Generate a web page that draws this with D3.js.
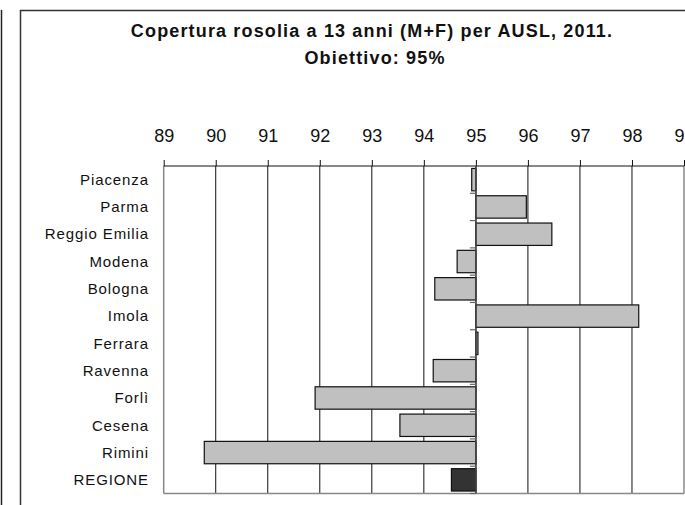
<!doctype html>
<html lang="it">
<head>
    <meta charset="UTF-8">
    <title>rosolia</title>
    <script src="https://cdn.jsdelivr.net/npm/d3@7"></script>
    <style>
        body { margin: 0; background: #fff; }
        svg { display: block; font-family: "Liberation Sans", Arial, sans-serif; }
    </style>
</head>
<body>
<svg width="685" height="505"></svg>
<script>
    // dati
    let ausl = ["Piacenza", "Parma", "Reggio Emilia", "Modena", "Bologna", "Imola",
        "Ferrara", "Ravenna", "Forlì", "Cesena", "Rimini", "REGIONE"];
    let copertura = [94.92, 95.97, 96.46, 94.64, 94.21, 98.13, 95.04, 94.18, 91.91, 93.54, 89.78, 94.53];
    let xTicks = [89, 90, 91, 92, 93, 94, 95, 96, 97, 98, 99];
    let obiettivo = 95;
    let titolo = ["Copertura rosolia a 13 anni (M+F) per AUSL, 2011.", "Obiettivo: 95%"];

    let svg = d3.select("svg");
    let grid = {left: 163.7, right: 684, top: 166, bottom: 493.5};

    // cornice esterna
    svg.append("line").attr("x1", 1.5).attr("x2", 1.5).attr("y1", 10).attr("y2", 505)
        .attr("stroke", "#222").attr("stroke-width", 1.5);
    svg.append("rect").attr("x", 20.5).attr("y", 10.5).attr("width", 700).attr("height", 520)
        .attr("fill", "none").attr("stroke", "#333").attr("stroke-width", 1.5);

    // titolo
    svg.selectAll(".titolo").data(titolo).enter().append("text")
        .attr("x", (d, i) => i === 0 ? 372 : 375).attr("y", (d, i) => 36.5 + i * 27.5)
        .attr("text-anchor", "middle")
        .attr("font-size", 18).attr("font-weight", "bold")
        .attr("letter-spacing", 1.15)
        .attr("fill", "#111")
        .text(d => d);

    let x = d3.scaleLinear().domain([89, 99]).range([grid.left, grid.right]);
    let y = d3.scaleBand().domain(ausl).range([grid.top, grid.bottom]).paddingInner(0.18).paddingOuter(0.09);

    // griglia verticale
    svg.append("g").selectAll("line").data(xTicks).enter().append("line")
        .attr("x1", d => x(d)).attr("x2", d => x(d))
        .attr("y1", grid.top).attr("y2", grid.bottom)
        .attr("stroke", d => (d === 89 || d === 99) ? "#888" : "#111")
        .attr("stroke-width", d => (d === 89 || d === 99) ? 1.5 : 1);
    svg.append("line").attr("x1", grid.left).attr("x2", grid.right)
        .attr("y1", grid.bottom).attr("y2", grid.bottom)
        .attr("stroke", "#888").attr("stroke-width", 1.5);

    // asse in alto
    let xAxis = d3.axisTop(x).tickValues(xTicks).tickSize(6).tickPadding(18).tickFormat(d3.format("d"));
    let gx = svg.append("g").attr("transform", "translate(0," + grid.top + ")").call(xAxis);
    gx.select(".domain").attr("stroke", "#111").attr("d", "M" + grid.left + ",0H" + grid.right);
    gx.selectAll(".tick line").attr("stroke", "#111");
    gx.selectAll(".tick text").attr("font-size", 18).attr("fill", "#111").attr("font-family", "Liberation Sans, Arial, sans-serif");

    // barre
    svg.append("g").selectAll("rect").data(copertura).enter().append("rect")
        .attr("x", d => Math.min(x(obiettivo), x(d)))
        .attr("y", (d, i) => y(ausl[i]))
        .attr("width", d => Math.abs(x(d) - x(obiettivo)))
        .attr("height", y.bandwidth())
        .attr("fill", (d, i) => ausl[i] === "REGIONE" ? "#333" : "#c0c0c0")
        .attr("stroke", "#111").attr("stroke-width", 1.2);

    // asse categorie sul 95
    svg.append("line").attr("x1", x(obiettivo)).attr("x2", x(obiettivo))
        .attr("y1", grid.top).attr("y2", grid.bottom)
        .attr("stroke", "#444").attr("stroke-width", 1.5);
    let bordi = d3.range(1, ausl.length + 1);
    svg.append("g").selectAll("line").data(bordi).enter().append("line")
        .attr("x1", x(obiettivo) - 6).attr("x2", x(obiettivo))
        .attr("y1", d => grid.top + d * y.step()).attr("y2", d => grid.top + d * y.step())
        .attr("stroke", "#666").attr("stroke-width", 1.2);

    // etichette AUSL
    svg.append("g").selectAll("text").data(ausl).enter().append("text")
        .attr("x", 149).attr("y", d => y(d) + y.bandwidth() / 2)
        .attr("dy", "0.35em")
        .attr("text-anchor", "end")
        .attr("font-size", 15).attr("letter-spacing", 0.9)
        .attr("fill", "#111")
        .text(d => d);
</script>
